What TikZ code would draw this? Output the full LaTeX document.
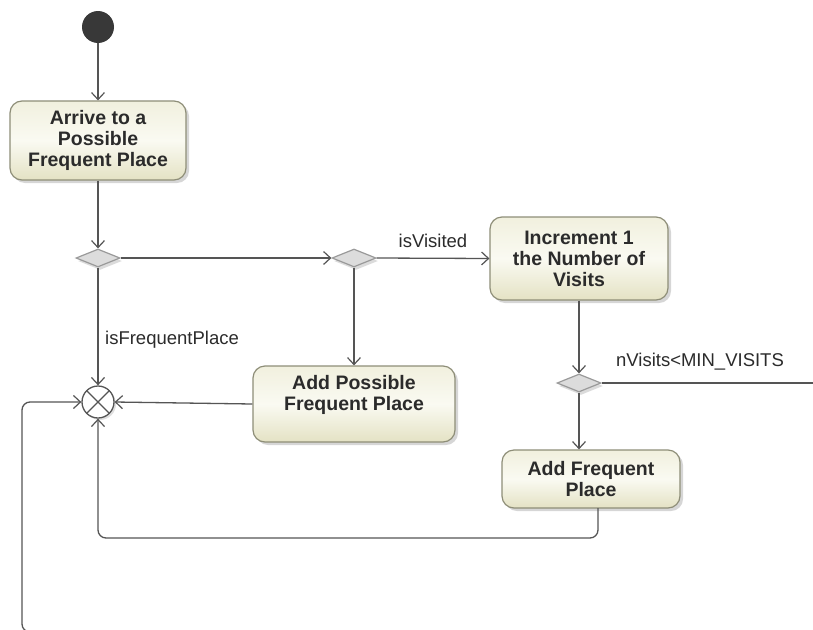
\documentclass[tikz,border=0pt]{standalone}
\usepackage{fontspec}
\setmainfont{Liberation Sans}
\usetikzlibrary{shapes.geometric,arrows.meta,shadows,calc}
\definecolor{lineC}{HTML}{555555}
\definecolor{boxBorder}{HTML}{8E8E78}
\definecolor{boxTop}{HTML}{F1F0DE}
\definecolor{boxMid}{HTML}{FAFAF2}
\definecolor{boxBot}{HTML}{E4E2C4}
\definecolor{txtC}{HTML}{2B2B2B}
\definecolor{diaFill}{HTML}{DCDCDC}
\definecolor{diaBorder}{HTML}{9A9A9A}
\tikzset{
  boxfont/.style={font=\fontsize{19.5}{21}\selectfont\bfseries},
  actbox/.style={draw=boxBorder, line width=1.2pt, rounded corners=12pt,
    top color=boxTop, bottom color=boxBot, middle color=boxMid,
    drop shadow={shadow xshift=3pt, shadow yshift=-3pt, fill=gray!45, opacity=0.7},
    align=center, inner sep=2pt, text=txtC, boxfont},
  decis/.style={diamond, draw=diaBorder, fill=diaFill, line width=1.2pt, inner sep=0pt,
    minimum width=44pt, minimum height=18pt, aspect=2.44,
    drop shadow={shadow xshift=2pt, shadow yshift=-3pt, fill=gray!40, opacity=0.7}},
  flow/.style={draw=lineC, line width=1.3pt, -{Straight Barb[length=7pt,width=13pt,line width=1.2pt]}},
  plainflow/.style={draw=lineC, line width=1.3pt},
  lbl/.style={font=\fontsize{18.5}{21}\selectfont, text=txtC, inner sep=0pt},
}
\begin{document}
\begin{tikzpicture}[x=1pt,y=-1pt]
\clip (0,0) rectangle (813,629);
\useasboundingbox (0,0) rectangle (813,629);
\fill[white] (0,0) rectangle (813,629);

% nodes
\node[circle, fill=black!78, minimum size=32pt, inner sep=0pt] (init) at (98,27) {};
\node[actbox, minimum width=176pt, minimum height=79pt] (A) at (98,140.5)
  {Arrive to a\\Possible\\Frequent Place};
\node[decis] (D1) at (98,258) {};
\node[decis] (D2) at (354,258) {};
\node[actbox, minimum width=178pt, minimum height=83pt] (B) at (579,258.5)
  {Increment 1\\the Number of\\Visits};
\node[actbox, minimum width=202pt, minimum height=76pt] (C) at (354,404) {};
\node[boxfont, text=txtC, align=center, anchor=north]
  (Ctext) at (354,372) {Add Possible\\Frequent Place};
\node[circle, draw=lineC, fill=white, line width=1.3pt, minimum size=32pt, inner sep=0pt,
  drop shadow={shadow xshift=2pt, shadow yshift=-2pt, fill=gray!40, opacity=0.6},
  path picture={
    \draw[lineC, line width=1.2pt] ([shift={(45:16pt)}]path picture bounding box.center) -- ([shift={(225:16pt)}]path picture bounding box.center);
    \draw[lineC, line width=1.2pt] ([shift={(135:16pt)}]path picture bounding box.center) -- ([shift={(315:16pt)}]path picture bounding box.center);
  }] (M) at (98,402) {};
\node[decis] (D3) at (579,383) {};
\node[actbox, minimum width=178pt, minimum height=58pt] (D) at (591,479)
  {Add Frequent\\Place};

\coordinate (R) at (820,383);
\coordinate (Dout) at (598,508);
\coordinate (L0) at (50,640);

% connectors
\draw[flow] (init) -- (A.north);
\draw[flow] (A.south) -- (D1.north);
\draw[flow] (D1.east) -- (D2.west);
\draw[flow] (D2.east) -- (B.west);
\node[lbl] (lv) at (433,241) {isVisited};
\draw[flow] (D2.south) -- (C.north);
\draw[flow] (D1.south) -- (M.north);
\node[lbl] (lf) at (172,340) {isFrequentPlace};
\draw[flow] (C.west) -- (M.east);
\draw[flow] (B.south) -- (D3.north);
\draw[plainflow] (D3.east) -- (R);
\node[lbl] (ln) at (700,362) {nVisits<MIN\_VISITS};
\draw[flow] (D3.south) -- (D3.south |- D.north);
\draw[flow, rounded corners=8pt] (Dout) -- (598,538) -- (98,538) -- (M.south);
\draw[flow, rounded corners=8pt] (L0) -- (50,632) -- (22,632) -- (22,402) -- (M.west);
\end{tikzpicture}
\end{document}
